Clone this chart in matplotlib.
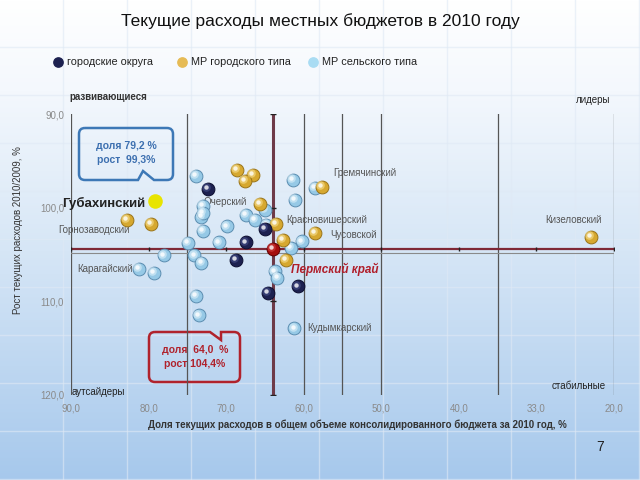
import numpy as np
import matplotlib.pyplot as plt
from matplotlib.path import Path
from matplotlib.patches import PathPatch
from matplotlib.transforms import offset_copy

plt.rcParams['font.family'] = ['Liberation Sans', 'DejaVu Sans']

# --- data: share of current expenses (x, %) and growth 2010/2009 (y, %) ---
okruga_x = [72.4, 65.0, 67.5, 68.7, 60.8, 64.6]
okruga_y = [98.0, 102.3, 103.7, 105.6, 108.4, 109.1]

gor_x = [68.6, 66.6, 67.6, 82.8, 79.7, 65.6, 63.6, 62.7, 58.6, 62.3, 57.7, 23.0]
gor_y = [96.0, 96.5, 97.1, 101.3, 101.7, 99.6, 101.7, 103.4, 102.7, 105.6, 97.8, 103.1]

sel_x = [73.9, 73.0, 73.2, 73.0, 65.0, 67.5, 66.3, 64.8, 69.9, 73.0, 74.9, 70.9,
         61.6, 60.2, 61.4, 58.6, 61.1, 78.0, 74.1, 73.2, 81.2, 79.3, 63.7, 63.4,
         73.9, 73.5, 61.2]
sel_y = [96.6, 99.8, 101.0, 100.6, 100.2, 100.8, 101.3, 101.8, 102.0, 102.5, 103.8, 103.7,
         104.3, 103.6, 97.0, 97.9, 99.2, 105.1, 105.1, 105.9, 106.5, 107.0, 106.8, 107.5,
         109.4, 111.5, 112.9]

krai_x, krai_y = 64.0, 104.4          # Пермский край
gub_x, gub_y = 79.2, 99.3             # Губахинский

names = ['Гремячинский', 'Очерский', 'Горнозаводский', 'Красновишерский',
         'Чусовской', 'Кизеловский', 'Карагайский', 'Кудымкарский']
name_x = [56.2, 72.9, 91.7, 62.3, 56.6, 28.8, 89.2, 59.6]
name_y = [96.3, 99.4, 102.4, 101.3, 102.9, 101.3, 106.5, 112.9]

xticks = [90, 80, 70, 60, 50, 40, 30, 20]
xtick_labels = ['90,0', '80,0', '70,0', '60,0', '50,0', '40,0', '33,0', '20,0']
yticks = [90, 100, 110, 120]
ytick_labels = ['90,0', '100,0', '110,0', '120,0']
vlines = [90, 75, 60, 55, 50, 35, 20]

W, H = 640, 480
fig = plt.figure(figsize=(6.4, 4.8), dpi=100)

# background: white-to-blue slide gradient, pixel coordinates
bg = fig.add_axes([0, 0, 1, 1])
bg.set_xlim(0, W)
bg.set_ylim(H, 0)
bg.axis('off')
stops = np.array([0, 90, 250, 480])
cols = np.array([[255, 255, 255], [244, 248, 253], [214, 230, 246], [166, 200, 236]]) / 255
yy = np.arange(H)
grad = np.stack([np.interp(yy, stops, cols[:, k]) for k in range(3)], axis=1)
bg.imshow(np.repeat(grad[:, None, :], 2, axis=1), extent=[0, W, H, 0], aspect='auto', zorder=0)
for gx in range(63, W, 64):
    bg.axvline(gx, color='#dfe9f5', lw=1, alpha=0.6, zorder=1)
for gy in range(47, H, 48):
    bg.axhline(gy, color='#dfe9f5', lw=1, alpha=0.6, zorder=1)

bg.text(320, 21, 'Текущие расходы местных бюджетов в 2010 году', ha='center', va='center',
        fontsize=12.5, color='#111111')

# legend
leg = [('#1d2150', 58, 'городские округа'), ('#e6bb55', 182, 'МР городского типа'),
       ('#a9dcf3', 313, 'МР сельского типа')]
for c, lx, txt in leg:
    bg.scatter([lx], [62], s=45, color=c, zorder=3)
    bg.text(lx + 9, 62, txt, va='center', fontsize=7.8, color='#222222')

bg.text(69, 97, 'развивающиеся', fontsize=7, fontweight='bold', color='#333333', va='center')
bg.text(610, 100, 'лидеры', fontsize=7, color='#222222', va='center', ha='right')
bg.text(72, 392, 'аутсайдеры', fontsize=7, color='#222222', va='center')
bg.text(606, 386, 'стабильные', fontsize=7, color='#222222', va='center', ha='right')
bg.text(600, 447, '7', fontsize=10, color='#222222', va='center', ha='center')
bg.text(357, 425, 'Доля текущих расходов в общем объеме консолидированного бюджета за 2010 год, %',
        ha='center', va='center', fontsize=7, fontweight='bold', color='#333333')
bg.text(18, 230, 'Рост текущих расходов 2010/2009, %', rotation=90, ha='center', va='center',
        fontsize=7, color='#333333')

# callouts
def callout(x0, y0, x1, y1, notch, top, color):
    r = 6
    a, b, c = notch
    if top:
        verts = [(x0 + r, y0), (a, y0), (b, y0 + 8), (b, y0), (c, y0), (x1 - r, y0),
                 (x1, y0), (x1, y0 + r), (x1, y1 - r), (x1, y1), (x1 - r, y1),
                 (x0 + r, y1), (x0, y1), (x0, y1 - r), (x0, y0 + r), (x0, y0), (x0 + r, y0)]
    else:
        verts = [(x0 + r, y0), (x1 - r, y0), (x1, y0), (x1, y0 + r), (x1, y1 - r), (x1, y1),
                 (x1 - r, y1), (c, y1), (b, y1 - 9), (a, y1), (x0 + r, y1),
                 (x0, y1), (x0, y1 - r), (x0, y0 + r), (x0, y0), (x0 + r, y0)]
    codes = [Path.MOVETO]
    i = 1
    while i < len(verts):
        v = verts[i]
        # corners use quadratic curves
        if v in [(x1, y0), (x1, y1), (x0, y1), (x0, y0)]:
            codes += [Path.CURVE3, Path.CURVE3]
            i += 2
        else:
            codes.append(Path.LINETO)
            i += 1
    bg.add_patch(PathPatch(Path(verts, codes), fc='none', ec=color, lw=1.8, zorder=5))

callout(79, 128, 173, 180, (138, 143, 154), False, '#3d78b6')
bg.text(126, 146, 'доля 79,2 %', ha='center', va='center', fontsize=7.5, fontweight='bold', color='#3d70b0')
bg.text(126, 160, 'рост  99,3%', ha='center', va='center', fontsize=7.5, fontweight='bold', color='#3d70b0')
callout(149, 332, 240, 382, (210, 221, 226), True, '#b0222c')
bg.text(195, 350, 'доля  64,0  %', ha='center', va='center', fontsize=7.5, fontweight='bold', color='#b0222c')
bg.text(195, 364, 'рост 104,4%', ha='center', va='center', fontsize=7.5, fontweight='bold', color='#b0222c')

# main chart
ax = fig.add_axes([71 / W, 1 - 395 / H, 543 / W, 281 / H])
ax.patch.set_alpha(0)
ax.set_xlim(90, 20)
ax.set_ylim(120, 90)
for s in ax.spines.values():
    s.set_visible(False)
ax.set_xticks(xticks)
ax.set_xticklabels(xtick_labels)
ax.set_yticks(yticks)
ax.set_yticklabels(ytick_labels)
ax.tick_params(length=0, labelsize=7, labelcolor='#8a8a8a')
ax.tick_params(axis='x', pad=6)
ax.tick_params(axis='y', pad=5)

for v in vlines:
    ax.axvline(v, color='#555555', lw=0.9, zorder=1)
ax.axhline(104.8, color='#8a8a8a', lw=0.8, zorder=1)
ax.axhline(krai_y, color='#7e2836', lw=1.6, zorder=2)
ax.axvline(krai_x, color='#6e3a48', lw=2.2, zorder=2)
ax.plot(xticks, [krai_y] * len(xticks), ls='none', marker='|', ms=3, color='#222222', zorder=2)
ax.plot([krai_x] * 4, yticks, ls='none', marker='_', ms=4, color='#222222', zorder=2)


def balls(xs, ys, base, edge, light, size=85):
    hl = offset_copy(ax.transData, fig=fig, x=-1.3, y=1.3, units='points')
    ax.scatter(xs, ys, s=size, color=base, edgecolor=edge, lw=0.7, zorder=4)
    ax.scatter(xs, ys, s=size * 0.45, color=light, alpha=0.55, lw=0, zorder=4, transform=hl)
    ax.scatter(xs, ys, s=size * 0.12, color='white', alpha=0.8, lw=0, zorder=4, transform=hl)


balls(sel_x, sel_y, '#96c9e6', '#5b8db0', '#e3f3fb')
balls(gor_x, gor_y, '#d6a830', '#9a7418', '#fbe69a')
balls(okruga_x, okruga_y, '#1d2150', '#0c0e30', '#4b5590')
balls([krai_x], [krai_y], '#a50d0d', '#600000', '#d84a4a')
ax.scatter([gub_x], [gub_y], s=110, color='#e8e400', lw=0, zorder=4)

for n, x, y in zip(names, name_x, name_y):
    ax.text(x, y, n, fontsize=7, color='#555555', va='center', zorder=3)
ax.text(91.2, 99.6, 'Губахинский', fontsize=9.5, fontweight='bold', color='#222222', va='center', zorder=3)
ax.text(61.6, 106.6, 'Пермский край', fontsize=8.5, fontweight='bold', style='italic',
        color='#b01e2a', va='center', zorder=3)

fig.savefig('out.png', dpi=100)
